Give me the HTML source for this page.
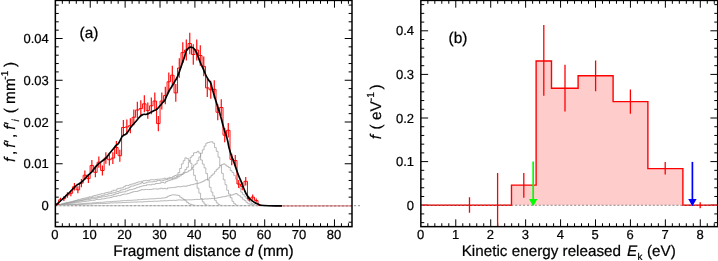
<!DOCTYPE html>
<html><head><meta charset="utf-8"><title>figure</title>
<style>html,body{margin:0;padding:0;background:#fff}body{width:718px;height:261px;overflow:hidden}</style>
</head><body>
<svg width="718" height="261" viewBox="0 0 718 261" style="will-change:transform;display:block;text-rendering:geometricPrecision;font-family:'Liberation Sans',sans-serif">
<rect width="718" height="261" fill="#fff"/>
<style>text{stroke:#000;stroke-width:0.22px;paint-order:stroke}</style>
<clipPath id="cl"><rect x="55.35" y="0.4" width="296.65" height="226.25"/></clipPath>
<path d="M90.24 226.65v-7.3M90.24 0.40v7.3M125.13 226.65v-7.3M125.13 0.40v7.3M160.02 226.65v-7.3M160.02 0.40v7.3M194.91 226.65v-7.3M194.91 0.40v7.3M229.80 226.65v-7.3M229.80 0.40v7.3M264.69 226.65v-7.3M264.69 0.40v7.3M299.58 226.65v-7.3M299.58 0.40v7.3M334.47 226.65v-7.3M334.47 0.40v7.3" stroke="#000" stroke-width="1.0" fill="none"/>
<path d="M62.33 226.65v-3.4M62.33 0.40v3.4M69.31 226.65v-3.4M69.31 0.40v3.4M76.28 226.65v-3.4M76.28 0.40v3.4M83.26 226.65v-3.4M83.26 0.40v3.4M97.22 226.65v-3.4M97.22 0.40v3.4M104.20 226.65v-3.4M104.20 0.40v3.4M111.17 226.65v-3.4M111.17 0.40v3.4M118.15 226.65v-3.4M118.15 0.40v3.4M132.11 226.65v-3.4M132.11 0.40v3.4M139.09 226.65v-3.4M139.09 0.40v3.4M146.06 226.65v-3.4M146.06 0.40v3.4M153.04 226.65v-3.4M153.04 0.40v3.4M167.00 226.65v-3.4M167.00 0.40v3.4M173.98 226.65v-3.4M173.98 0.40v3.4M180.95 226.65v-3.4M180.95 0.40v3.4M187.93 226.65v-3.4M187.93 0.40v3.4M201.89 226.65v-3.4M201.89 0.40v3.4M208.87 226.65v-3.4M208.87 0.40v3.4M215.84 226.65v-3.4M215.84 0.40v3.4M222.82 226.65v-3.4M222.82 0.40v3.4M236.78 226.65v-3.4M236.78 0.40v3.4M243.76 226.65v-3.4M243.76 0.40v3.4M250.73 226.65v-3.4M250.73 0.40v3.4M257.71 226.65v-3.4M257.71 0.40v3.4M271.67 226.65v-3.4M271.67 0.40v3.4M278.65 226.65v-3.4M278.65 0.40v3.4M285.62 226.65v-3.4M285.62 0.40v3.4M292.60 226.65v-3.4M292.60 0.40v3.4M306.56 226.65v-3.4M306.56 0.40v3.4M313.54 226.65v-3.4M313.54 0.40v3.4M320.51 226.65v-3.4M320.51 0.40v3.4M327.49 226.65v-3.4M327.49 0.40v3.4M341.45 226.65v-3.4M341.45 0.40v3.4M348.43 226.65v-3.4M348.43 0.40v3.4" stroke="#000" stroke-width="1.0" fill="none"/>
<path d="M55.35 205.50h7.3M352.00 205.50h-7.3M55.35 163.75h7.3M352.00 163.75h-7.3M55.35 122.00h7.3M352.00 122.00h-7.3M55.35 80.25h7.3M352.00 80.25h-7.3M55.35 38.50h7.3M352.00 38.50h-7.3" stroke="#000" stroke-width="1.0" fill="none"/>
<path d="M55.35 222.20h3.4M352.00 222.20h-3.4M55.35 213.85h3.4M352.00 213.85h-3.4M55.35 197.15h3.4M352.00 197.15h-3.4M55.35 188.80h3.4M352.00 188.80h-3.4M55.35 180.45h3.4M352.00 180.45h-3.4M55.35 172.10h3.4M352.00 172.10h-3.4M55.35 155.40h3.4M352.00 155.40h-3.4M55.35 147.05h3.4M352.00 147.05h-3.4M55.35 138.70h3.4M352.00 138.70h-3.4M55.35 130.35h3.4M352.00 130.35h-3.4M55.35 113.65h3.4M352.00 113.65h-3.4M55.35 105.30h3.4M352.00 105.30h-3.4M55.35 96.95h3.4M352.00 96.95h-3.4M55.35 88.60h3.4M352.00 88.60h-3.4M55.35 71.90h3.4M352.00 71.90h-3.4M55.35 63.55h3.4M352.00 63.55h-3.4M55.35 55.20h3.4M352.00 55.20h-3.4M55.35 46.85h3.4M352.00 46.85h-3.4M55.35 30.15h3.4M352.00 30.15h-3.4M55.35 21.80h3.4M352.00 21.80h-3.4M55.35 13.45h3.4M352.00 13.45h-3.4M55.35 5.10h3.4M352.00 5.10h-3.4" stroke="#000" stroke-width="1.0" fill="none"/>
<g clip-path="url(#cl)" fill="none" stroke="#9a9a9a" stroke-width="0.68" stroke-linejoin="miter">
<path d="M55.80 205.50V205.28H57.54V204.78H59.29V204.33H61.03V204.00H62.78V203.33H64.52V203.06H66.27V202.42H68.01V202.29H69.76V201.76H71.50V201.45H73.25V200.80H74.99V200.47H76.73V199.94H78.48V199.43H80.22V199.11H81.97V198.47H83.71V198.15H85.46V197.87H87.20V197.33H88.95V196.81H90.69V196.80H92.43V196.01H94.18V195.45H95.92V195.14H97.67V194.58H99.41V194.16H101.16V193.71H102.90V193.72H104.65V192.89H106.39V192.47H108.14V192.12H109.88V191.96H111.62V190.93H113.37V190.21H115.11V190.26H116.86V188.78H118.60V188.39H120.35V188.01H122.09V187.77H123.84V186.38H125.58V185.43H127.32V185.61H129.07V184.74H130.81V184.20H132.56V183.84H134.30V183.21H136.05V182.65H137.79V181.88H139.54V181.77H141.28V181.30H143.02V180.72H144.77V180.41H146.51V180.56H148.26V180.32H150.00V179.72H151.75V179.71H153.49V179.96H155.24V179.47H156.98V179.25H158.73V179.25H160.47V179.02H162.21V178.87H163.96V178.17H165.70V178.87H167.45V178.06H169.19V177.39H170.94V177.53H172.68V176.46H174.43V175.51H176.17V174.95H177.91V172.59H179.66V168.51H181.40V163.95H183.15V160.72H184.89V157.82H186.64V158.63H188.38V160.54H190.13V163.19H191.87V169.03H193.62V175.34H195.36V180.29H197.10V188.19H198.85V193.19H200.59V198.51H202.34V201.83H204.08V204.09H205.83V205.16H207.57V205.33H209.32V205.50H211.06V205.50"/>
<path d="M55.80 205.50V205.31H57.54V204.87H59.29V204.49H61.03V204.11H62.78V203.95H64.52V203.37H66.27V203.04H68.01V202.66H69.76V202.37H71.50V201.99H73.25V201.59H74.99V201.04H76.73V200.44H78.48V200.46H80.22V200.10H81.97V199.85H83.71V199.30H85.46V198.85H87.20V198.62H88.95V197.96H90.69V197.65H92.43V197.28H94.18V197.11H95.92V197.03H97.67V196.44H99.41V196.13H101.16V195.61H102.90V195.25H104.65V194.75H106.39V194.41H108.14V193.64H109.88V193.49H111.62V192.93H113.37V192.74H115.11V192.09H116.86V191.58H118.60V191.06H120.35V190.06H122.09V189.75H123.84V189.34H125.58V188.31H127.32V187.98H129.07V187.10H130.81V186.17H132.56V186.00H134.30V185.19H136.05V184.83H137.79V184.10H139.54V183.72H141.28V182.52H143.02V183.40H144.77V182.98H146.51V182.30H148.26V181.93H150.00V181.94H151.75V181.89H153.49V181.60H155.24V181.39H156.98V180.55H158.73V180.59H160.47V181.07H162.21V180.58H163.96V179.90H165.70V179.65H167.45V179.03H169.19V178.69H170.94V178.86H172.68V178.01H174.43V177.74H176.17V176.51H177.91V175.03H179.66V174.32H181.40V174.28H183.15V172.35H184.89V169.48H186.64V167.28H188.38V161.77H190.13V157.29H191.87V155.54H193.62V152.77H195.36V152.57H197.10V151.34H198.85V153.12H200.59V159.96H202.34V164.09H204.08V167.86H205.83V173.57H207.57V180.19H209.32V187.26H211.06V192.03H212.80V195.92H214.55V200.32H216.29V202.85H218.04V204.54H219.78V205.33H221.53V205.46H223.27V205.50"/>
<path d="M55.80 205.50V205.34H57.54V205.02H59.29V204.75H61.03V204.48H62.78V204.13H64.52V203.71H66.27V203.38H68.01V202.98H69.76V202.78H71.50V202.40H73.25V202.17H74.99V201.69H76.73V201.45H78.48V201.08H80.22V200.72H81.97V200.40H83.71V200.09H85.46V199.75H87.20V199.66H88.95V199.28H90.69V198.76H92.43V198.70H94.18V198.35H95.92V198.21H97.67V197.64H99.41V197.32H101.16V196.93H102.90V196.75H104.65V196.51H106.39V196.14H108.14V195.76H109.88V195.60H111.62V195.06H113.37V194.57H115.11V193.82H116.86V193.52H118.60V192.76H120.35V192.26H122.09V191.94H123.84V191.83H125.58V191.08H127.32V190.34H129.07V189.78H130.81V189.52H132.56V189.09H134.30V188.53H136.05V187.68H137.79V187.25H139.54V186.60H141.28V186.10H143.02V185.68H144.77V185.55H146.51V184.79H148.26V184.74H150.00V184.88H151.75V184.25H153.49V184.34H155.24V183.56H156.98V183.49H158.73V183.38H160.47V182.68H162.21V182.45H163.96V183.00H165.70V181.52H167.45V180.86H169.19V180.23H170.94V179.75H172.68V179.08H174.43V178.72H176.17V178.01H177.91V176.72H179.66V175.69H181.40V174.33H183.15V173.26H184.89V172.46H186.64V171.91H188.38V170.67H190.13V169.87H191.87V167.56H193.62V164.97H195.36V163.83H197.10V160.62H198.85V156.90H200.59V153.30H202.34V149.77H204.08V146.05H205.83V143.19H207.57V142.48H209.32V142.00H211.06V141.74H212.80V143.16H214.55V147.60H216.29V151.39H218.04V157.20H219.78V165.60H221.53V173.27H223.27V179.68H225.02V184.75H226.76V190.27H228.51V194.06H230.25V197.71H231.99V201.33H233.74V203.70H235.48V205.06H237.23V205.39H238.97V205.50H240.72V205.50"/>
<path d="M55.80 205.50V205.38H57.54V205.13H59.29V204.91H61.03V204.69H62.78V204.40H64.52V204.10H66.27V203.86H68.01V203.60H69.76V203.33H71.50V203.17H73.25V202.89H74.99V202.69H76.73V202.36H78.48V202.11H80.22V201.93H81.97V201.67H83.71V201.59H85.46V201.11H87.20V201.00H88.95V200.72H90.69V200.32H92.43V200.33H94.18V200.02H95.92V199.47H97.67V199.59H99.41V199.39H101.16V198.86H102.90V198.95H104.65V198.44H106.39V197.97H108.14V197.95H109.88V197.53H111.62V196.99H113.37V196.41H115.11V196.38H116.86V195.78H118.60V195.59H120.35V195.11H122.09V194.51H123.84V194.07H125.58V194.08H127.32V193.64H129.07V193.03H130.81V192.38H132.56V191.82H134.30V191.51H136.05V191.51H137.79V190.82H139.54V190.23H141.28V189.62H143.02V189.79H144.77V189.42H146.51V189.49H148.26V189.52H150.00V189.46H151.75V189.11H153.49V188.87H155.24V188.89H156.98V189.14H158.73V188.71H160.47V188.20H162.21V188.77H163.96V188.37H165.70V188.97H167.45V187.89H169.19V187.82H170.94V187.62H172.68V187.62H174.43V187.23H176.17V186.86H177.91V186.59H179.66V186.77H181.40V186.35H183.15V186.02H184.89V186.37H186.64V185.73H188.38V185.49H190.13V184.77H191.87V184.58H193.62V184.05H195.36V183.65H197.10V183.40H198.85V182.82H200.59V182.19H202.34V181.41H204.08V180.22H205.83V179.67H207.57V179.17H209.32V177.20H211.06V175.33H212.80V173.83H214.55V171.34H216.29V169.35H218.04V167.83H219.78V165.38H221.53V164.50H223.27V163.87H225.02V165.07H226.76V166.37H228.51V167.52H230.25V170.54H231.99V172.48H233.74V175.42H235.48V179.15H237.23V184.00H238.97V187.89H240.72V192.16H242.46V194.36H244.21V196.37H245.95V198.32H247.69V200.27H249.44V201.85H251.18V203.48H252.93V204.29H254.67V205.05H256.42V205.39H258.16V205.50H259.91V205.50"/>
<path d="M55.80 205.50V205.44H57.54V205.32H59.29V205.23H61.03V205.10H62.78V204.97H64.52V204.84H66.27V204.67H68.01V204.56H69.76V204.51H71.50V204.29H73.25V204.17H74.99V204.20H76.73V204.08H78.48V203.87H80.22V203.77H81.97V203.62H83.71V203.59H85.46V203.32H87.20V203.24H88.95V203.16H90.69V203.12H92.43V202.85H94.18V202.77H95.92V202.58H97.67V202.44H99.41V202.32H101.16V202.27H102.90V202.23H104.65V201.94H106.39V201.83H108.14V201.73H109.88V201.69H111.62V201.61H113.37V201.27H115.11V201.34H116.86V201.06H118.60V201.14H120.35V200.83H122.09V200.70H123.84V200.62H125.58V200.58H127.32V200.35H129.07V200.38H130.81V200.25H132.56V200.13H134.30V200.04H136.05V200.00H137.79V199.67H139.54V199.65H141.28V199.53H143.02V199.13H144.77V199.35H146.51V199.07H148.26V198.96H150.00V198.87H151.75V198.82H153.49V198.73H155.24V198.62H156.98V198.32H158.73V198.40H160.47V198.23H162.21V197.98H163.96V197.91H165.70V197.24H167.45V196.31H169.19V195.56H170.94V195.02H172.68V194.77H174.43V194.94H176.17V195.19H177.91V195.42H179.66V197.10H181.40V198.15H183.15V199.47H184.89V200.76H186.64V202.46H188.38V203.77H190.13V204.37H191.87V204.91H193.62V205.34H195.36V205.45H197.10V205.50"/>
<path d="M55.80 205.50V205.46H57.54V205.39H59.29V205.31H61.03V205.23H62.78V205.21H64.52V205.08H66.27V204.98H68.01V204.93H69.76V204.86H71.50V204.78H73.25V204.72H74.99V204.51H76.73V204.64H78.48V204.44H80.22V204.44H81.97V204.28H83.71V204.26H85.46V204.16H87.20V203.99H88.95V204.05H90.69V203.99H92.43V203.79H94.18V203.64H95.92V203.67H97.67V203.58H99.41V203.57H101.16V203.49H102.90V203.54H104.65V203.39H106.39V203.24H108.14V203.20H109.88V202.86H111.62V202.96H113.37V202.88H115.11V202.87H116.86V202.84H118.60V202.75H120.35V202.74H122.09V202.51H123.84V202.53H125.58V202.41H127.32V202.35H129.07V202.31H130.81V202.17H132.56V202.14H134.30V202.04H136.05V202.08H137.79V201.88H139.54V201.85H141.28V202.02H143.02V201.74H144.77V201.65H146.51V201.63H148.26V201.33H150.00V201.44H151.75V201.37H153.49V201.26H155.24V201.25H156.98V201.15H158.73V201.12H160.47V200.83H162.21V200.88H163.96V200.69H165.70V200.83H167.45V200.62H169.19V200.37H170.94V200.46H172.68V200.25H174.43V200.42H176.17V200.17H177.91V199.86H179.66V200.01H181.40V200.12H183.15V199.95H184.89V199.76H186.64V199.86H188.38V199.79H190.13V199.85H191.87V199.71H193.62V199.58H195.36V199.36H197.10V199.44H198.85V199.38H200.59V199.28H202.34V199.27H204.08V198.92H205.83V199.03H207.57V198.81H209.32V198.73H211.06V198.53H212.80V198.36H214.55V198.26H216.29V198.02H218.04V197.54H219.78V197.32H221.53V196.83H223.27V196.71H225.02V196.32H226.76V195.79H228.51V195.89H230.25V195.14H231.99V194.83H233.74V194.09H235.48V193.52H237.23V194.88H238.97V195.83H240.72V197.33H242.46V199.18H244.21V200.59H245.95V202.32H247.69V203.69H249.44V204.19H251.18V204.89H252.93V205.29H254.67V205.46H256.42V205.50"/>
</g>
<line x1="55.35" y1="205.6" x2="352.0" y2="205.6" stroke="#d4d4d4" stroke-width="1.2"/>
<line x1="55.35" y1="205.6" x2="361" y2="205.6" stroke="#a6a6a6" stroke-width="1.2" stroke-dasharray="2.1 1.83"/>
<g clip-path="url(#cl)">
<path d="M55.35 205.50V204.40H58.65V199.80H62.14V198.60H65.64V195.00H69.14V193.30H72.63V186.70H76.13V189.80H79.63V183.10H83.13V175.20H86.62V178.60H90.12V165.50H93.62V172.30H97.11V162.20H100.61V170.50H104.11V158.00H107.60V159.70H111.10V158.10H114.60V147.50H118.10V155.70H121.59V127.50H125.09V127.00H128.59V125.70H132.08V117.30H135.58V110.00H139.08V108.60H142.57V103.80H146.07V110.60H149.57V105.80H153.07V101.00H156.56V123.60H160.06V101.00H163.56V95.50H167.05V81.80H170.55V75.20H174.05V92.90H177.54V68.00H181.04V52.60H184.54V50.00H188.04V43.50H191.53V54.50H195.03V50.00H198.53V55.50H202.02V66.40H205.52V87.90H209.02V89.80H212.52V89.30H216.01V112.25H219.51V107.50H223.01V135.20H226.50V130.30H230.00V159.40H233.50V160.60H236.99V184.00H240.49V186.40H243.99V181.30H247.48V199.00H250.98V197.10H254.48V200.50H257.98V205.10H261.47V205.50H276" fill="none" stroke="#ff0000" stroke-width="0.95" stroke-linejoin="miter"/>
<path d="M56.90 203.34V205.46M60.40 197.64V201.96M63.89 196.25V200.95M67.39 192.14V197.86M70.89 190.24V196.36M74.38 182.94V190.46M77.88 186.35V193.25M81.38 179.02V187.18M84.87 170.49V179.91M88.37 174.15V183.05M91.87 160.11V170.89M95.37 167.38V177.22M98.86 156.60V167.80M102.36 165.45V175.55M105.86 152.15V163.85M109.35 153.95V165.45M112.85 152.25V163.95M116.35 141.06V153.94M119.84 149.71V161.69M123.34 120.06V134.94M126.84 119.53V134.47M130.34 118.17V133.23M133.83 109.40V125.20M137.33 101.79V118.21M140.83 100.33V116.87M144.32 95.33V112.27M147.82 102.41V118.79M151.32 97.41V114.19M154.81 92.42V109.58M158.31 115.98V131.22M161.81 92.42V109.58M165.31 86.70V104.30M168.80 72.48V91.12M172.30 65.64V84.76M175.80 84.00V101.80M179.29 58.18V77.82M182.79 42.26V62.94M186.29 39.57V60.43M189.78 32.86V54.14M193.28 44.22V64.78M196.78 39.57V60.43M200.28 45.26V65.74M203.77 56.53V76.27M207.27 78.81V96.99M210.77 80.78V98.82M214.26 80.26V98.34M217.76 104.13V120.37M221.26 99.18V115.82M224.75 128.12V142.28M228.25 122.99V137.61M231.75 153.63V165.17M235.25 154.91V166.29M238.74 180.00V188.00M242.24 182.62V190.18M245.74 177.07V185.53M249.23 196.71V201.29M252.73 194.52V199.68M256.23 198.47V202.53M259.72 204.30V205.90" fill="none" stroke="#ff0000" stroke-width="1.15"/>
<line x1="275" y1="205.8" x2="352.0" y2="205.8" stroke="#e59a9a" stroke-width="1.25"/>
<line x1="275" y1="205.8" x2="352.0" y2="205.8" stroke="#b87478" stroke-width="1.25" stroke-dasharray="2.1 1.83"/>
<path d="M55.60 205.40C57.73 203.43 57.40 203.80 62.00 199.50C66.60 195.20 65.67 196.10 69.40 192.50C73.13 188.90 70.80 191.10 73.20 188.70C75.60 186.30 74.33 187.10 76.60 185.30C78.87 183.50 77.60 185.07 80.00 183.30C82.40 181.53 81.23 182.53 83.80 180.00C86.37 177.47 85.13 178.30 87.70 175.70C90.27 173.10 89.40 174.47 91.50 172.20C93.60 169.93 91.87 171.50 94.00 168.90C96.13 166.30 95.33 166.90 97.90 164.40C100.47 161.90 99.13 163.40 101.70 161.40C104.27 159.40 103.33 160.63 105.60 158.40C107.87 156.17 106.53 157.17 108.50 154.70C110.47 152.23 109.60 153.30 111.50 151.00C113.40 148.70 112.73 149.60 114.20 147.80C115.67 146.00 114.43 147.10 115.90 145.60C117.37 144.10 116.90 145.63 118.60 143.30C120.30 140.97 119.57 141.10 121.00 138.60C122.43 136.10 121.30 137.30 122.90 135.80C124.50 134.30 124.03 135.60 125.80 134.10C127.57 132.60 126.47 133.67 128.20 131.30C129.93 128.93 129.37 129.27 131.00 127.00C132.63 124.73 131.13 126.77 133.10 124.50C135.07 122.23 134.67 122.77 136.90 120.20C139.13 117.63 137.70 118.70 139.80 116.80C141.90 114.90 140.97 115.33 143.20 114.50C145.43 113.67 144.10 114.97 146.50 114.30C148.90 113.63 147.83 113.73 150.40 112.50C152.97 111.27 151.97 111.77 154.20 110.60C156.43 109.43 155.17 110.60 157.10 109.00C159.03 107.40 158.20 107.87 160.00 105.80C161.80 103.73 160.90 104.67 162.50 102.80C164.10 100.93 163.57 102.07 164.80 100.20C166.03 98.33 164.87 100.10 166.20 97.20C167.53 94.30 166.97 95.00 168.80 91.50C170.63 88.00 169.77 89.93 171.70 86.70C173.63 83.47 172.83 84.83 174.60 81.80C176.37 78.77 175.60 80.43 177.00 77.60C178.40 74.77 177.53 76.67 178.80 73.30C180.07 69.93 179.33 71.73 180.80 67.50C182.27 63.27 181.93 64.27 183.20 60.60C184.47 56.93 183.53 59.73 184.60 56.50C185.67 53.27 185.00 53.77 186.40 50.90C187.80 48.03 187.03 49.07 188.80 47.90C190.57 46.73 189.93 47.10 191.70 47.40C193.47 47.70 192.63 47.33 194.10 48.80C195.57 50.27 195.00 49.80 196.10 51.80C197.20 53.80 196.10 51.50 197.40 54.80C198.70 58.10 198.17 57.23 200.00 61.70C201.83 66.17 200.97 63.77 202.90 68.20C204.83 72.63 203.90 71.07 205.80 75.00C207.70 78.93 207.00 77.37 208.60 80.00C210.20 82.63 209.40 80.07 210.60 82.90C211.80 85.73 211.00 84.27 212.20 88.50C213.40 92.73 212.40 89.63 214.20 95.60C216.00 101.57 215.43 99.40 217.60 106.40C219.77 113.40 218.60 109.23 220.70 116.60C222.80 123.97 221.77 121.17 223.90 128.50C226.03 135.83 225.13 131.27 227.10 138.60C229.07 145.93 227.43 142.37 229.80 150.50C232.17 158.63 231.47 155.17 234.20 163.00C236.93 170.83 235.67 167.80 238.00 174.00C240.33 180.20 239.33 176.93 241.20 181.60C243.07 186.27 241.53 183.30 243.60 188.00C245.67 192.70 244.60 191.50 247.40 195.70C250.20 199.90 248.47 197.83 252.00 200.60C255.53 203.37 254.00 202.37 258.00 204.00C262.00 205.63 256.00 204.90 264.00 205.50C272.00 206.10 276.00 205.70 282.00 205.80" fill="none" stroke="#000" stroke-width="1.7" stroke-linejoin="round" stroke-linecap="butt"/>
</g>
<rect x="55.35" y="0.40" width="296.65" height="226.25" fill="none" stroke="#000" stroke-width="1.5"/>
<g font-size="13" fill="#000">
<text x="54.8" y="239.4" text-anchor="middle">0</text>
<text x="89.6" y="239.4" text-anchor="middle">10</text>
<text x="124.5" y="239.4" text-anchor="middle">20</text>
<text x="159.4" y="239.4" text-anchor="middle">30</text>
<text x="194.3" y="239.4" text-anchor="middle">40</text>
<text x="229.2" y="239.4" text-anchor="middle">50</text>
<text x="264.1" y="239.4" text-anchor="middle">60</text>
<text x="299.0" y="239.4" text-anchor="middle">70</text>
<text x="333.9" y="239.4" text-anchor="middle">80</text>
<text x="48.8" y="210.1" text-anchor="end">0</text>
<text x="48.8" y="168.3" text-anchor="end">0.01</text>
<text x="48.8" y="126.6" text-anchor="end">0.02</text>
<text x="48.8" y="84.8" text-anchor="end">0.03</text>
<text x="48.8" y="43.1" text-anchor="end">0.04</text>
</g>
<text x="203.5" y="256" font-size="15.4" text-anchor="middle">Fragment distance <tspan font-style="italic">d</tspan> (mm)</text>
<text x="79.6" y="37.9" font-size="15.4">(a)</text>
<text transform="translate(15.3 0) rotate(-90)" font-size="15.4"><tspan x="-161.9" font-style="italic">f</tspan><tspan dx="2.5">,</tspan><tspan x="-147.7" font-style="italic">f</tspan><tspan dx="0.6">′</tspan><tspan dx="2">,</tspan><tspan x="-129.7" font-style="italic">f</tspan><tspan dx="0.6">′</tspan><tspan x="-121.4" dy="3.8" font-size="10" font-style="italic">i</tspan><tspan x="-113.3" dy="-3.8">( mm</tspan><tspan dy="-7.5" dx="-1.4" font-size="10">-1</tspan><tspan x="-66.9" dy="7.5">)</tspan></text>
<clipPath id="cr"><rect x="420.85" y="0.4" width="296.85" height="226.25"/></clipPath>
<path d="M455.78 226.65v-7.3M455.78 0.40v7.3M490.71 226.65v-7.3M490.71 0.40v7.3M525.64 226.65v-7.3M525.64 0.40v7.3M560.57 226.65v-7.3M560.57 0.40v7.3M595.50 226.65v-7.3M595.50 0.40v7.3M630.43 226.65v-7.3M630.43 0.40v7.3M665.36 226.65v-7.3M665.36 0.40v7.3M700.29 226.65v-7.3M700.29 0.40v7.3" stroke="#000" stroke-width="1.0" fill="none"/>
<path d="M427.84 226.65v-3.4M427.84 0.40v3.4M434.82 226.65v-3.4M434.82 0.40v3.4M441.81 226.65v-3.4M441.81 0.40v3.4M448.79 226.65v-3.4M448.79 0.40v3.4M462.77 226.65v-3.4M462.77 0.40v3.4M469.75 226.65v-3.4M469.75 0.40v3.4M476.74 226.65v-3.4M476.74 0.40v3.4M483.72 226.65v-3.4M483.72 0.40v3.4M497.70 226.65v-3.4M497.70 0.40v3.4M504.68 226.65v-3.4M504.68 0.40v3.4M511.67 226.65v-3.4M511.67 0.40v3.4M518.65 226.65v-3.4M518.65 0.40v3.4M532.63 226.65v-3.4M532.63 0.40v3.4M539.61 226.65v-3.4M539.61 0.40v3.4M546.60 226.65v-3.4M546.60 0.40v3.4M553.58 226.65v-3.4M553.58 0.40v3.4M567.56 226.65v-3.4M567.56 0.40v3.4M574.54 226.65v-3.4M574.54 0.40v3.4M581.53 226.65v-3.4M581.53 0.40v3.4M588.51 226.65v-3.4M588.51 0.40v3.4M602.49 226.65v-3.4M602.49 0.40v3.4M609.47 226.65v-3.4M609.47 0.40v3.4M616.46 226.65v-3.4M616.46 0.40v3.4M623.44 226.65v-3.4M623.44 0.40v3.4M637.42 226.65v-3.4M637.42 0.40v3.4M644.40 226.65v-3.4M644.40 0.40v3.4M651.39 226.65v-3.4M651.39 0.40v3.4M658.37 226.65v-3.4M658.37 0.40v3.4M672.35 226.65v-3.4M672.35 0.40v3.4M679.33 226.65v-3.4M679.33 0.40v3.4M686.32 226.65v-3.4M686.32 0.40v3.4M693.30 226.65v-3.4M693.30 0.40v3.4M707.28 226.65v-3.4M707.28 0.40v3.4M714.26 226.65v-3.4M714.26 0.40v3.4" stroke="#000" stroke-width="1.0" fill="none"/>
<path d="M420.85 205.20h7.3M717.70 205.20h-7.3M420.85 161.60h7.3M717.70 161.60h-7.3M420.85 118.00h7.3M717.70 118.00h-7.3M420.85 74.40h7.3M717.70 74.40h-7.3M420.85 30.80h7.3M717.70 30.80h-7.3" stroke="#000" stroke-width="1.0" fill="none"/>
<path d="M420.85 222.64h3.4M717.70 222.64h-3.4M420.85 213.92h3.4M717.70 213.92h-3.4M420.85 196.48h3.4M717.70 196.48h-3.4M420.85 187.76h3.4M717.70 187.76h-3.4M420.85 179.04h3.4M717.70 179.04h-3.4M420.85 170.32h3.4M717.70 170.32h-3.4M420.85 152.88h3.4M717.70 152.88h-3.4M420.85 144.16h3.4M717.70 144.16h-3.4M420.85 135.44h3.4M717.70 135.44h-3.4M420.85 126.72h3.4M717.70 126.72h-3.4M420.85 109.28h3.4M717.70 109.28h-3.4M420.85 100.56h3.4M717.70 100.56h-3.4M420.85 91.84h3.4M717.70 91.84h-3.4M420.85 83.12h3.4M717.70 83.12h-3.4M420.85 65.68h3.4M717.70 65.68h-3.4M420.85 56.96h3.4M717.70 56.96h-3.4M420.85 48.24h3.4M717.70 48.24h-3.4M420.85 39.52h3.4M717.70 39.52h-3.4M420.85 22.08h3.4M717.70 22.08h-3.4M420.85 13.36h3.4M717.70 13.36h-3.4M420.85 4.64h3.4M717.70 4.64h-3.4" stroke="#000" stroke-width="1.0" fill="none"/>
<path d="M511.49 205.2V185.10H536.12V61.01H551.49V88.31H578.10V75.80H613.10V101.61H647.89V168.66H682.89V205.2Z" fill="#ffcccc" stroke="none"/>
<line x1="420.85" y1="205.2" x2="717.7" y2="205.2" stroke="#8a8a8a" stroke-width="1.1" stroke-dasharray="2.1 1.83"/>
<g clip-path="url(#cr)">
<path d="M420.85 205.2H511.49V185.10H536.12V61.01H551.49V88.31H578.10V75.80H613.10V101.61H647.89V168.66H682.89V205.2H717.7" fill="none" stroke="#ff0000" stroke-width="1.4" stroke-linejoin="miter"/>
<line x1="420.85" y1="205.2" x2="511.67" y2="205.2" stroke="#8a8a8a" stroke-width="1.1" stroke-dasharray="2.1 1.83" opacity="0.85"/>
<line x1="682.83" y1="205.2" x2="717.7" y2="205.2" stroke="#8a8a8a" stroke-width="1.1" stroke-dasharray="2.1 1.83" opacity="0.85"/>
<path d="M469.50 197.2V212.7M497.60 173.1V230M523.80 173.0V197.7M543.80 25.0V95.8M565.00 64.8V111.5M595.60 60.4V91.2M630.40 89.4V113.7M665.20 161.9V174.6M700.20 202.2V208.2" fill="none" stroke="#ff0000" stroke-width="1.3"/>
</g>
<line x1="533.2" y1="161.5" x2="533.2" y2="200" stroke="#00ff00" stroke-width="1.7"/>
<path d="M529.0 199.1H537.4000000000001L533.2 206.2Z" fill="#00ff00"/>
<line x1="692.4" y1="161.9" x2="692.4" y2="200" stroke="#0000ff" stroke-width="1.7"/>
<path d="M688.1999999999999 199.1H696.6L692.4 206.2Z" fill="#0000ff"/>
<rect x="420.85" y="0.40" width="296.85" height="226.25" fill="none" stroke="#000" stroke-width="1.5"/>
<g font-size="13" fill="#000">
<text x="420.6" y="239.4" text-anchor="middle">0</text>
<text x="455.5" y="239.4" text-anchor="middle">1</text>
<text x="490.4" y="239.4" text-anchor="middle">2</text>
<text x="525.3" y="239.4" text-anchor="middle">3</text>
<text x="560.3" y="239.4" text-anchor="middle">4</text>
<text x="595.2" y="239.4" text-anchor="middle">5</text>
<text x="630.1" y="239.4" text-anchor="middle">6</text>
<text x="665.1" y="239.4" text-anchor="middle">7</text>
<text x="700.0" y="239.4" text-anchor="middle">8</text>
<text x="414" y="209.8" text-anchor="end">0</text>
<text x="414" y="166.2" text-anchor="end">0.1</text>
<text x="414" y="122.6" text-anchor="end">0.2</text>
<text x="414" y="79.0" text-anchor="end">0.3</text>
<text x="414" y="35.4" text-anchor="end">0.4</text>
</g>
<text x="461.7" y="256" font-size="15.25">Kinetic energy released <tspan font-style="italic" dx="1.6">E</tspan><tspan font-size="9.8" dy="4.4" dx="0.4">k</tspan><tspan dy="-4.4" dx="0.3"> (eV)</tspan></text>
<text x="448.6" y="43.0" font-size="15.4">(b)</text>
<text transform="translate(381.2 0) rotate(-90)" font-size="15.4"><tspan x="-139.3" font-style="italic">f</tspan><tspan x="-129.4">( eV</tspan><tspan dy="-7.2" font-size="10.3">-1</tspan><tspan x="-89.4" dy="7.2">)</tspan></text>
</svg>
</body></html>
